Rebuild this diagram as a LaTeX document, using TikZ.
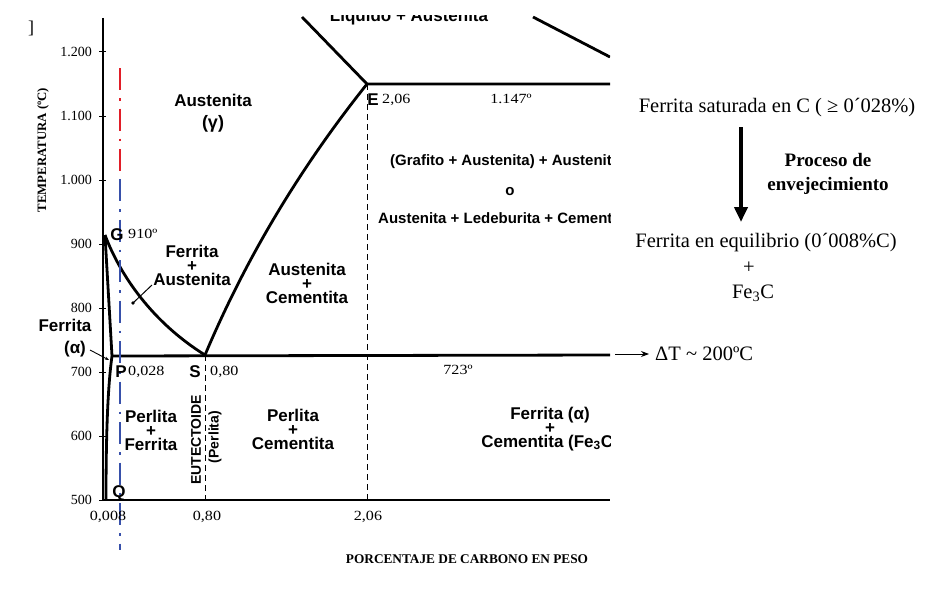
\documentclass[tikz,border=0pt]{standalone}
\usepackage{fontspec}
\setmainfont{Liberation Serif}
\newfontfamily\lsans{Liberation Sans}
\newfontfamily\wserif[FakeStretch=1.15]{Liberation Serif}
\usetikzlibrary{arrows.meta}
\definecolor{dblue}{RGB}{55,80,170}
\definecolor{dred}{RGB}{225,30,40}
\tikzset{
  lbl/.style={font=\lsans\bfseries\fontsize{17}{19}\selectfont, inner sep=0pt, text height=12pt, text depth=0pt, anchor=center},
  stack/.style={font=\lsans\bfseries\fontsize{17}{14}\selectfont, inner sep=0pt, align=center, anchor=center},
  slbl/.style={font=\lsans\bfseries\fontsize{15}{17}\selectfont, inner sep=0pt, text height=11pt, text depth=0pt},
  num/.style={font=\wserif\fontsize{14}{16}\selectfont, inner sep=0pt, text height=9.5pt, text depth=0pt},
  tick/.style={font=\fontsize{14}{16}\selectfont, inner sep=0pt, text height=9.5pt, text depth=0pt},
  rtext/.style={font=\fontsize{20.5}{22}\selectfont, inner sep=0pt, anchor=center},
  phaseline/.style={line width=2.8pt, line join=round},
  axisline/.style={line width=1.2pt},
  guide/.style={dashed, dash pattern=on 6pt off 4pt, line width=0.8pt},
  dashdotline/.style={line width=2.3pt, dash pattern=on 22pt off 8pt on 2.5pt off 8pt}
}
\begin{document}
\begin{tikzpicture}[x=1pt,y=-1pt]
\useasboundingbox (0,0) rectangle (944,602);
% key points
\coordinate (G) at (105,235);
\coordinate (P) at (112,356);
\coordinate (S) at (205,355);
\coordinate (E) at (367,84);
\coordinate (Q) at (106,500);
\coordinate (Ltop) at (302,17);
\coordinate (Rtop) at (533,17);
\coordinate (Rend) at (610,57);
\coordinate (Eend) at (610,84);
\coordinate (Send) at (610,355);
\coordinate (O) at (103,500);
\coordinate (Yt) at (103,18);
\coordinate (Xe) at (610,500);
\coordinate (S0) at (205,500);
\coordinate (E0) at (367,500);
% axes
\draw[axisline] (Yt) -- (O) -- (Xe);
\foreach \yy/\tt in {52/1.200,116/1.100,180/1.000,244/900,308/800,372/700,436/600,500/500}{
  \draw[line width=1pt] (99,\yy) -- (106,\yy);
  \node[tick, anchor=east] (t\yy) at (92,\yy) {\tt};
}
\node[font=\bfseries\fontsize{12.8}{14}\selectfont, rotate=90, inner sep=0pt] (ylab) at (43,150) {TEMPERATURA (ºC)};
\node[font=\fontsize{18}{20}\selectfont, inner sep=0pt] (brk) at (31,28) {]};
% guide lines
\draw[guide] (S) -- (S0);
\draw[guide] (E) -- (E0);
% phase boundaries
\begin{scope}
\clip (103,16) rectangle (610,501);
\node[lbl, anchor=base] (liq) at (409,22) {Liquido + Austenita};
\draw[phaseline] (Ltop) -- (E) -- (Eend);
\draw[phaseline] (Rtop) -- (Rend);
\draw[phaseline] (S) .. controls (246,258) and (300,168) .. (E);
\draw[phaseline] (G) .. controls (120,275) and (152,322) .. (S);
\draw[phaseline] (G) -- (P);
\draw[phaseline] (P) .. controls (108,385) and (106,430) .. (Q);
\draw[phaseline] (P) -- (Send);
\node[slbl, anchor=west] (gr1) at (390,160) {(Grafito + Austenita) + Austenita};
\node[slbl] (gro) at (510,190) {o};
\node[slbl, anchor=west] (gr3) at (378,218) {Austenita + Ledeburita + Cementita};
\node[stack] (fc) at (550,429) {Ferrita (α)\\+\\Cementita (Fe\textsubscript{3}C)};
\end{scope}
% dash-dot line
\coordinate (Rd1) at (120,68);
\coordinate (Rd2) at (120,179);
\coordinate (Bd2) at (120,550);
\draw[dashdotline, dred] (Rd1) -- (Rd2);
\draw[dashdotline, dblue] (Rd2) -- (Bd2);
% labels
\node[lbl] (a1) at (213,100) {Austenita};
\node[lbl, font=\lsans\bfseries\fontsize{18}{20}\selectfont] (a2) at (213,122) {(γ)};
\node[stack] (fa) at (192,265) {Ferrita\\+\\Austenita};
\coordinate (dotFA) at (133,303);
\coordinate (ldFA) at (152,285);
\draw[line width=1pt] (ldFA) -- (dotFA);
\fill (dotFA) circle (1.8pt);
\node[lbl] (fl1) at (65,325) {Ferrita};
\node[lbl] (fl2) at (75,347) {(α)};
\coordinate (ldF1) at (90,350);
\coordinate (ldF2) at (109,360);
\draw[line width=0.9pt, -{Stealth[length=4pt,width=3pt]}] (ldF1) -- (ldF2);
\node[stack] (ac) at (307,283) {Austenita\\+\\Cementita};
\node[stack] (pf) at (151,430) {Perlita\\+\\Ferrita};
\node[stack] (pc) at (293,429) {Perlita\\+\\Cementita};
\node[font=\lsans\bfseries\fontsize{14}{16}\selectfont, rotate=90, inner sep=0pt] (eut) at (196,440) {EUTECTOIDE};
\node[font=\lsans\bfseries\fontsize{14}{16}\selectfont, rotate=90, inner sep=0pt] (eutp) at (215,437) {(Perlita)};
\node[lbl] (lG) at (117,234) {G};
\node[num, anchor=west] (n910) at (128,234) {910º};
\node[lbl] (lP) at (121,371) {P};
\node[num, anchor=west] (n028) at (128,371) {0,028};
\node[lbl] (lS) at (195,371) {S};
\node[num, anchor=west] (n080) at (210,371) {0,80};
\node[lbl] (lE) at (373,99) {E};
\node[num, anchor=west] (n206) at (382,99) {2,06};
\node[num] (n1147) at (511,99) {1.147º};
\node[num] (n723) at (458,370) {723º};
\node[lbl] (lQ) at (119,491) {Q};
\node[num] (x008) at (108,516) {0,008};
\node[num] (x080) at (207,516) {0,80};
\node[num] (x206) at (368,516) {2,06};
\node[font=\bfseries\fontsize{13.3}{15}\selectfont, inner sep=0pt] (xlab) at (467,559) {PORCENTAJE DE CARBONO EN PESO};
% right side
\node[rtext] (r1) at (777,108) {Ferrita saturada en C ( ≥ 0´028\%)};
\node[rtext, font=\bfseries\fontsize{19}{24}\selectfont, align=center] (r2) at (828,174) {Proceso de\\envejecimiento};
\node[rtext] (r3) at (766,243) {Ferrita en equilibrio (0´008\%C)};
\node[rtext] (r4) at (749,268) {+};
\node[rtext] (r5) at (753,293) {Fe\textsubscript{3}C};
\coordinate (ar1) at (741,127);
\coordinate (ar2) at (741,222);
\draw[line width=3.8pt, -{Triangle[width=13pt,length=15pt]}] (ar1) -- (ar2);
\coordinate (dt1) at (615,354);
\coordinate (dt2) at (649,354);
\draw[line width=1pt, -{Stealth[length=8pt,width=6pt]}] (dt1) -- (dt2);
\node[rtext, anchor=west] (dT) at (655,354) {ΔT \textasciitilde{} 200ºC};
\end{tikzpicture}
\end{document}
